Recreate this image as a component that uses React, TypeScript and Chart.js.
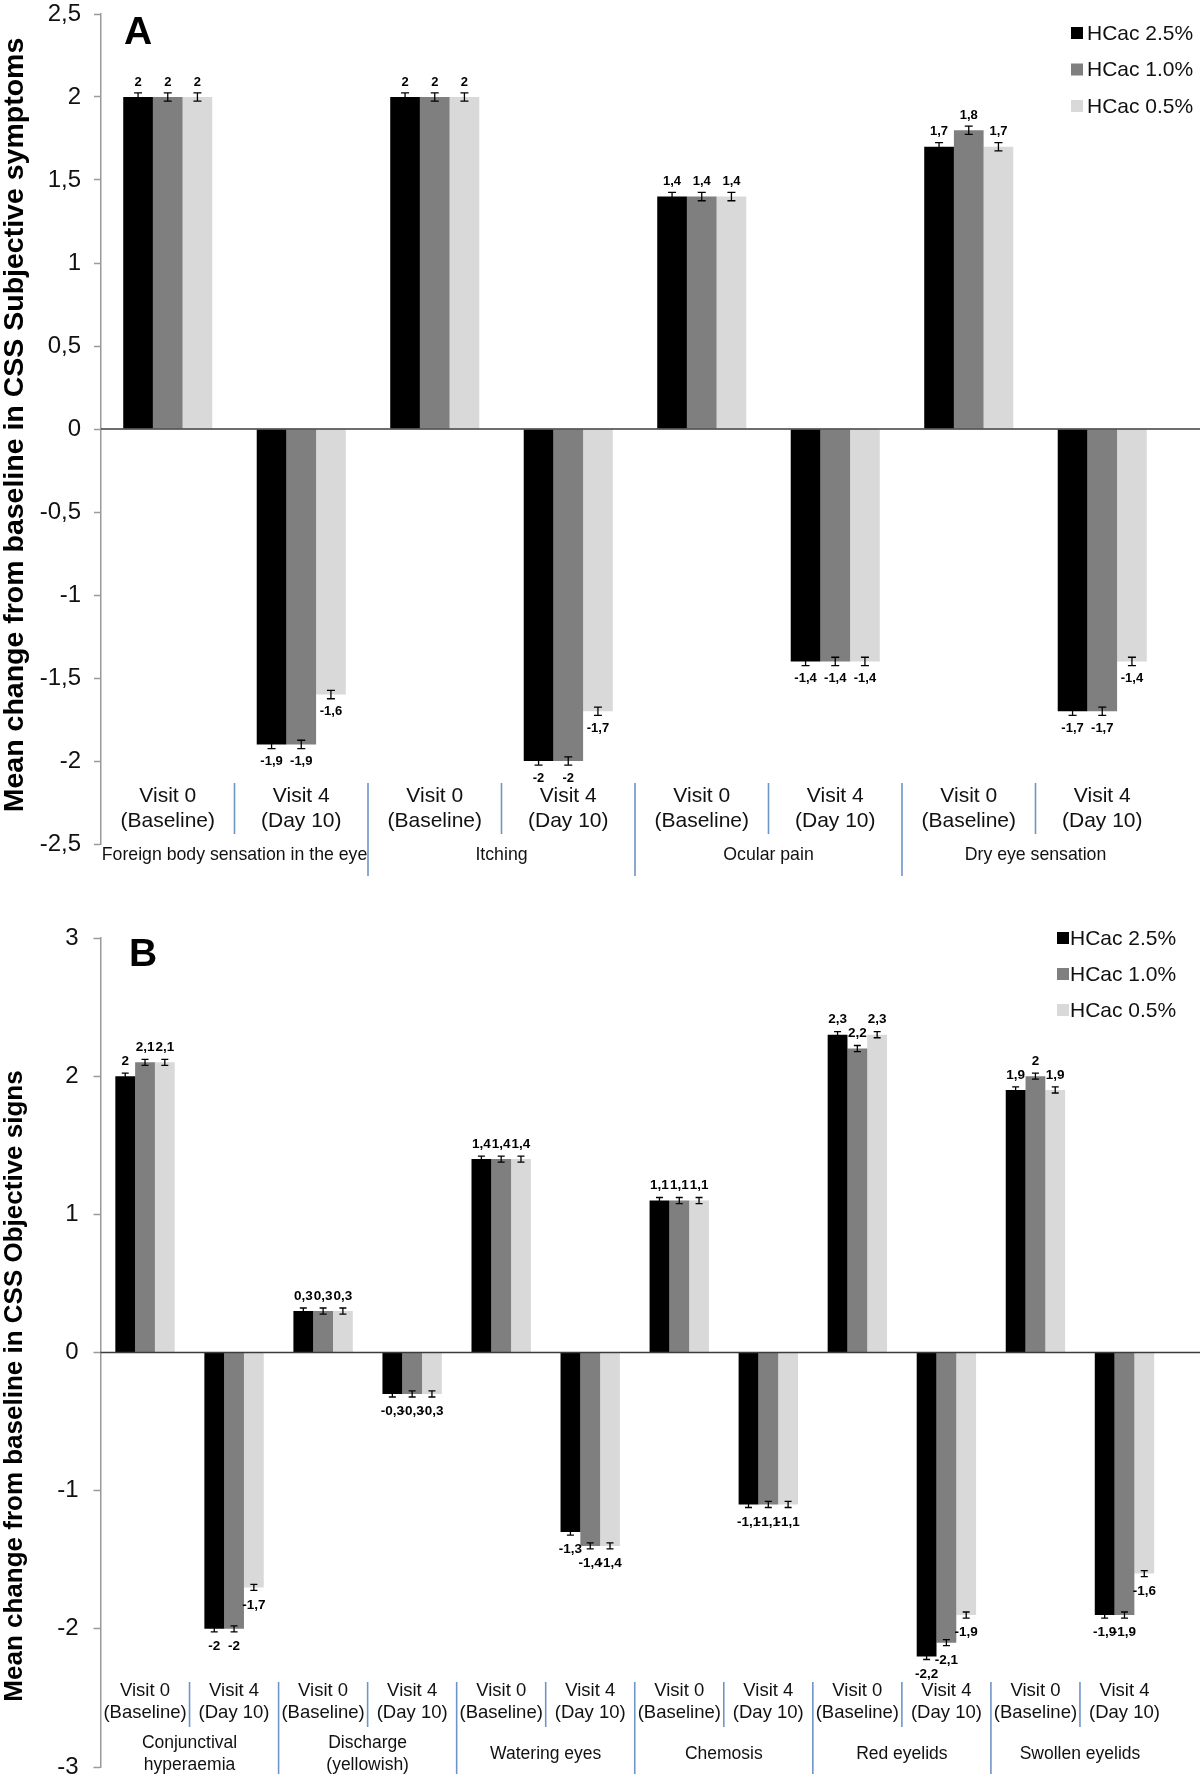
import React, { useEffect, useRef } from "react";
import { Chart, registerables } from "chart.js";

Chart.register(...registerables);

const FONT = "'Liberation Sans', Arial, Helvetica, sans-serif";

// ---------- shared ----------
const seriesNames = ["HCac 2.5%", "HCac 1.0%", "HCac 0.5%"];
const seriesColors = ["#000000", "#7f7f7f", "#d9d9d9"];

// ---------- Panel A: subjective symptoms ----------
const categoriesA = [
  ["Visit 0", "(Baseline)"], ["Visit 4", "(Day 10)"],
  ["Visit 0", "(Baseline)"], ["Visit 4", "(Day 10)"],
  ["Visit 0", "(Baseline)"], ["Visit 4", "(Day 10)"],
  ["Visit 0", "(Baseline)"], ["Visit 4", "(Day 10)"],
];
const groupsA = [
  ["Foreign body sensation in the eye"],
  ["Itching"],
  ["Ocular pain"],
  ["Dry eye sensation"],
];
const hcac25A = [2, -1.9, 2, -2, 1.4, -1.4, 1.7, -1.7];
const hcac10A = [2, -1.9, 2, -2, 1.4, -1.4, 1.8, -1.7];
const hcac05A = [2, -1.6, 2, -1.7, 1.4, -1.4, 1.7, -1.4];
const errorA = 0.025;
const yMinA = -2.5;
const yMaxA = 2.5;
const yStepA = 0.5;
const titleA = "Mean change from baseline in CSS Subjective symptoms";

// ---------- Panel B: objective signs ----------
const categoriesB = [
  ["Visit 0", "(Baseline)"], ["Visit 4", "(Day 10)"],
  ["Visit 0", "(Baseline)"], ["Visit 4", "(Day 10)"],
  ["Visit 0", "(Baseline)"], ["Visit 4", "(Day 10)"],
  ["Visit 0", "(Baseline)"], ["Visit 4", "(Day 10)"],
  ["Visit 0", "(Baseline)"], ["Visit 4", "(Day 10)"],
  ["Visit 0", "(Baseline)"], ["Visit 4", "(Day 10)"],
];
const groupsB = [
  ["Conjunctival", "hyperaemia"],
  ["Discharge", "(yellowish)"],
  ["Watering eyes"],
  ["Chemosis"],
  ["Red eyelids"],
  ["Swollen eyelids"],
];
const hcac25B = [2, -2, 0.3, -0.3, 1.4, -1.3, 1.1, -1.1, 2.3, -2.2, 1.9, -1.9];
const hcac10B = [2.1, -2, 0.3, -0.3, 1.4, -1.4, 1.1, -1.1, 2.2, -2.1, 2, -1.9];
const hcac05B = [2.1, -1.7, 0.3, -0.3, 1.4, -1.4, 1.1, -1.1, 2.3, -1.9, 1.9, -1.6];
const errorB = 0.022;
const yMinB = -3;
const yMaxB = 3;
const yStepB = 1;
const titleB = "Mean change from baseline in CSS Objective signs";

const fmt = (v: number) => String(+v.toFixed(2)).replace(".", ",");

const decorPlugin = {
  id: "decor",
  afterDraw(chart: any, _args: any, o: any) {
    const ctx = chart.ctx as CanvasRenderingContext2D;
    const xs = chart.scales.x;
    const ys = chart.scales.y;
    const area = chart.chartArea;
    ctx.save();

    // zero line
    const y0 = ys.getPixelForValue(0);
    ctx.strokeStyle = "#3c3c3c";
    ctx.lineWidth = 1.6;
    ctx.beginPath();
    ctx.moveTo(area.left, y0);
    ctx.lineTo(chart.width, y0);
    ctx.stroke();

    // error bars + value labels
    chart.data.datasets.forEach((ds: any, di: number) => {
      const meta = chart.getDatasetMeta(di);
      meta.data.forEach((bar: any, i: number) => {
        const v = ds.data[i] as number;
        const bx = bar.x;
        const yh = ys.getPixelForValue(v + o.err);
        const yl = ys.getPixelForValue(v - o.err);
        ctx.strokeStyle = "#000";
        ctx.lineWidth = 1.3;
        ctx.beginPath();
        ctx.moveTo(bx, yh);
        ctx.lineTo(bx, yl);
        ctx.moveTo(bx - o.cap, yh);
        ctx.lineTo(bx + o.cap, yh);
        ctx.moveTo(bx - o.cap, yl);
        ctx.lineTo(bx + o.cap, yl);
        ctx.stroke();
        const vy = ys.getPixelForValue(v);
        const ty = v >= 0 ? vy - o.labelUp : vy + o.labelDown;
        ctx.fillStyle = "#000";
        ctx.font = `bold ${o.labelSize}px ${FONT}`;
        ctx.textAlign = "center";
        ctx.textBaseline = "middle";
        ctx.fillText(fmt(v), bx, ty);
      });
    });

    // category labels
    const labels = chart.data.labels as string[][];
    ctx.fillStyle = "#111";
    ctx.textAlign = "center";
    ctx.textBaseline = "middle";
    ctx.font = `${o.visitSize}px ${FONT}`;
    labels.forEach((lines, i) => {
      const px = xs.getPixelForValue(i);
      lines.forEach((t, k) => ctx.fillText(t, px, o.visitY[k]));
    });

    // group labels
    ctx.font = `${o.groupSize}px ${FONT}`;
    o.groups.forEach((lines: string[], g: number) => {
      const px = (xs.getPixelForValue(2 * g) + xs.getPixelForValue(2 * g + 1)) / 2;
      if (lines.length === 1) ctx.fillText(lines[0], px, o.groupY1);
      else lines.forEach((t, k) => ctx.fillText(t, px, o.groupY2[k]));
    });

    // separators
    ctx.strokeStyle = "#6f95c6";
    ctx.lineWidth = 1.6;
    for (let i = 0; i < labels.length - 1; i++) {
      const sx = (xs.getPixelForValue(i) + xs.getPixelForValue(i + 1)) / 2;
      const long = i % 2 === 1;
      ctx.beginPath();
      ctx.moveTo(sx, o.sepTop);
      ctx.lineTo(sx, long ? o.sepLongBottom : o.sepShortBottom);
      ctx.stroke();
    }

    // legend
    ctx.font = `${o.legendSize}px ${FONT}`;
    ctx.textAlign = "left";
    chart.data.datasets.forEach((ds: any, di: number) => {
      const ly = o.legendY + di * o.legendDy;
      ctx.fillStyle = ds.backgroundColor;
      ctx.fillRect(o.legendX, ly - 6, 12, 12);
      ctx.fillStyle = "#111";
      ctx.fillText(ds.label, o.legendX + o.legendGap, ly + 1);
    });

    // panel letter
    ctx.font = `bold ${o.letterSize}px ${FONT}`;
    ctx.textAlign = "center";
    ctx.fillStyle = "#000";
    ctx.fillText(o.letter, o.letterX, o.letterY);

    // y title
    ctx.translate(o.titleX, o.titleY);
    ctx.rotate(-Math.PI / 2);
    ctx.font = `bold ${o.titleSize}px ${FONT}`;
    ctx.textAlign = "center";
    ctx.fillText(o.title, 0, 0);

    ctx.restore();
  },
};

function buildConfig(p: any) {
  return {
    type: "bar",
    data: {
      labels: p.labels,
      datasets: p.series.map((d: number[], i: number) => ({
        label: seriesNames[i],
        data: d,
        backgroundColor: seriesColors[i],
        borderWidth: 0,
        categoryPercentage: 0.667,
        barPercentage: 1.0,
      })),
    },
    options: {
      responsive: false,
      animation: false,
      layout: { padding: { left: 0, right: 31, top: p.padTop, bottom: p.padBottom } },
      plugins: {
        legend: { display: false },
        tooltip: { enabled: false },
        decor: p.decor,
      },
      scales: {
        x: { display: false },
        y: {
          min: p.yMin,
          max: p.yMax,
          afterFit: (s: any) => {
            s.width = p.axisX;
            s.paddingTop = 0;
            s.paddingBottom = 0;
          },
          ticks: {
            stepSize: p.yStep,
            padding: p.tickPad,
            color: "#111",
            font: { family: FONT, size: 24 },
            callback: (v: any) => fmt(Number(v)),
          },
          grid: {
            drawOnChartArea: false,
            drawTicks: true,
            tickLength: 7,
            tickColor: "#9a9a9a",
            tickWidth: 1.5,
          },
          border: { color: "#9a9a9a", width: 1.5 },
        },
      },
    },
    plugins: [decorPlugin],
  };
}

function Panel({ config }: { config: any }) {
  const ref = useRef<HTMLCanvasElement | null>(null);
  useEffect(() => {
    if (!ref.current) return;
    const chart = new Chart(ref.current, config);
    return () => chart.destroy();
  }, [config]);
  return <canvas ref={ref} width={1200} height={890} style={{ display: "block" }} />;
}

const configA = buildConfig({
  labels: categoriesA,
  series: [hcac25A, hcac10A, hcac05A],
  yMin: yMinA,
  yMax: yMaxA,
  yStep: yStepA,
  axisX: 101,
  tickPad: 13,
  padTop: 14,
  padBottom: 46,
  decor: {
    err: errorA,
    cap: 4,
    labelSize: 13,
    labelUp: 15,
    labelDown: 17,
    visitSize: 21,
    visitY: [796, 821],
    groups: groupsA,
    groupSize: 17.7,
    groupY1: 855,
    groupY2: [845, 866],
    sepTop: 783,
    sepShortBottom: 834,
    sepLongBottom: 876,
    legendX: 1071,
    legendGap: 16,
    legendY: 33,
    legendDy: 36.5,
    legendSize: 21,
    letter: "A",
    letterSize: 39,
    letterX: 138,
    letterY: 33,
    title: titleA,
    titleSize: 28.5,
    titleX: 15,
    titleY: 425,
  },
});

const configB = buildConfig({
  labels: categoriesB,
  series: [hcac25B, hcac10B, hcac05B],
  yMin: yMinB,
  yMax: yMaxB,
  yStep: yStepB,
  axisX: 100.5,
  tickPad: 15,
  padTop: 48,
  padBottom: 13,
  decor: {
    err: errorB,
    cap: 3.5,
    labelSize: 13.5,
    labelUp: 15,
    labelDown: 17.5,
    visitSize: 18.5,
    visitY: [801, 823],
    groups: groupsB,
    groupSize: 17.5,
    groupY1: 864,
    groupY2: [853, 875],
    sepTop: 792,
    sepShortBottom: 837,
    sepLongBottom: 884,
    legendX: 1057,
    legendGap: 13,
    legendY: 48,
    legendDy: 36,
    legendSize: 21,
    letter: "B",
    letterSize: 39,
    letterX: 143,
    letterY: 65,
    title: titleB,
    titleSize: 26,
    titleX: 15,
    titleY: 496,
  },
});

export default function App() {
  return (
    <div style={{ position: "absolute", left: 0, top: 0, width: 1200, height: 1780, background: "#fff" }}>
      <Panel config={configA} />
      <Panel config={configB} />
    </div>
  );
}
